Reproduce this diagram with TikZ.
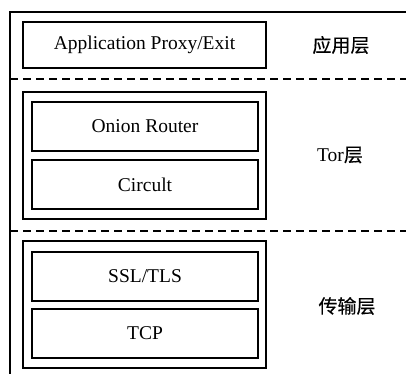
\documentclass[tikz,border=0pt]{standalone}
\usepackage{fontspec}
\setmainfont{Liberation Serif}
\newfontfamily\cjk[FakeBold=0.4]{Noto Sans CJK SC}
\begin{document}
\begin{tikzpicture}[x=1pt,y=-1pt,
  box/.style={draw,line width=1.7pt,inner sep=0pt},
  grp/.style={draw,line width=1.7pt,inner sep=0pt},
  sep/.style={line width=1.7pt,dash pattern=on 8pt off 5pt},
  lbl/.style={font=\fontsize{19.5}{21}\selectfont},
  layer/.style={font=\cjk\fontsize{19}{21}\selectfont}]
\useasboundingbox (0,0) rectangle (406,374);
% outer frame (top and left edges)
\coordinate (tl) at (10,12);
\coordinate (tr) at (406,12);
\coordinate (bl) at (10,374);
\draw[line width=1.7pt] (tr) -- (tl) -- (bl);
% layer separators
\coordinate (s1a) at (10,79);
\coordinate (s1b) at (406,79);
\coordinate (s2a) at (10,231);
\coordinate (s2b) at (406,231);
\draw[sep] (s1a) -- (s1b);
\draw[sep] (s2a) -- (s2b);
% application layer
\draw[box] (23,22) rectangle (266,68);
\node[lbl] (app) at (144.5,45) {Application Proxy/Exit};
\node[layer] (appl) at (341,45) {应用层};
% Tor layer
\draw[grp] (23,92) rectangle (266,219);
\draw[box] (32,102) rectangle (258,151);
\draw[box] (32,160) rectangle (258,209);
\node[lbl] (onion) at (145,126.5) {Onion Router};
\node[lbl] (circ) at (145,184.5) {Circult};
\node (torl) at (340,155) {\fontsize{19.5}{21}\selectfont Tor\cjk\fontsize{19}{21}\selectfont 层};
% transport layer
\draw[grp] (23,241) rectangle (266,368);
\draw[box] (32,252) rectangle (258,301);
\draw[box] (32,309) rectangle (258,358);
\node[lbl] (ssl) at (145,276.5) {SSL/TLS};
\node[lbl] (tcp) at (145,333.5) {TCP};
\node[layer] (trl) at (347,306) {传输层};
\end{tikzpicture}
\end{document}
